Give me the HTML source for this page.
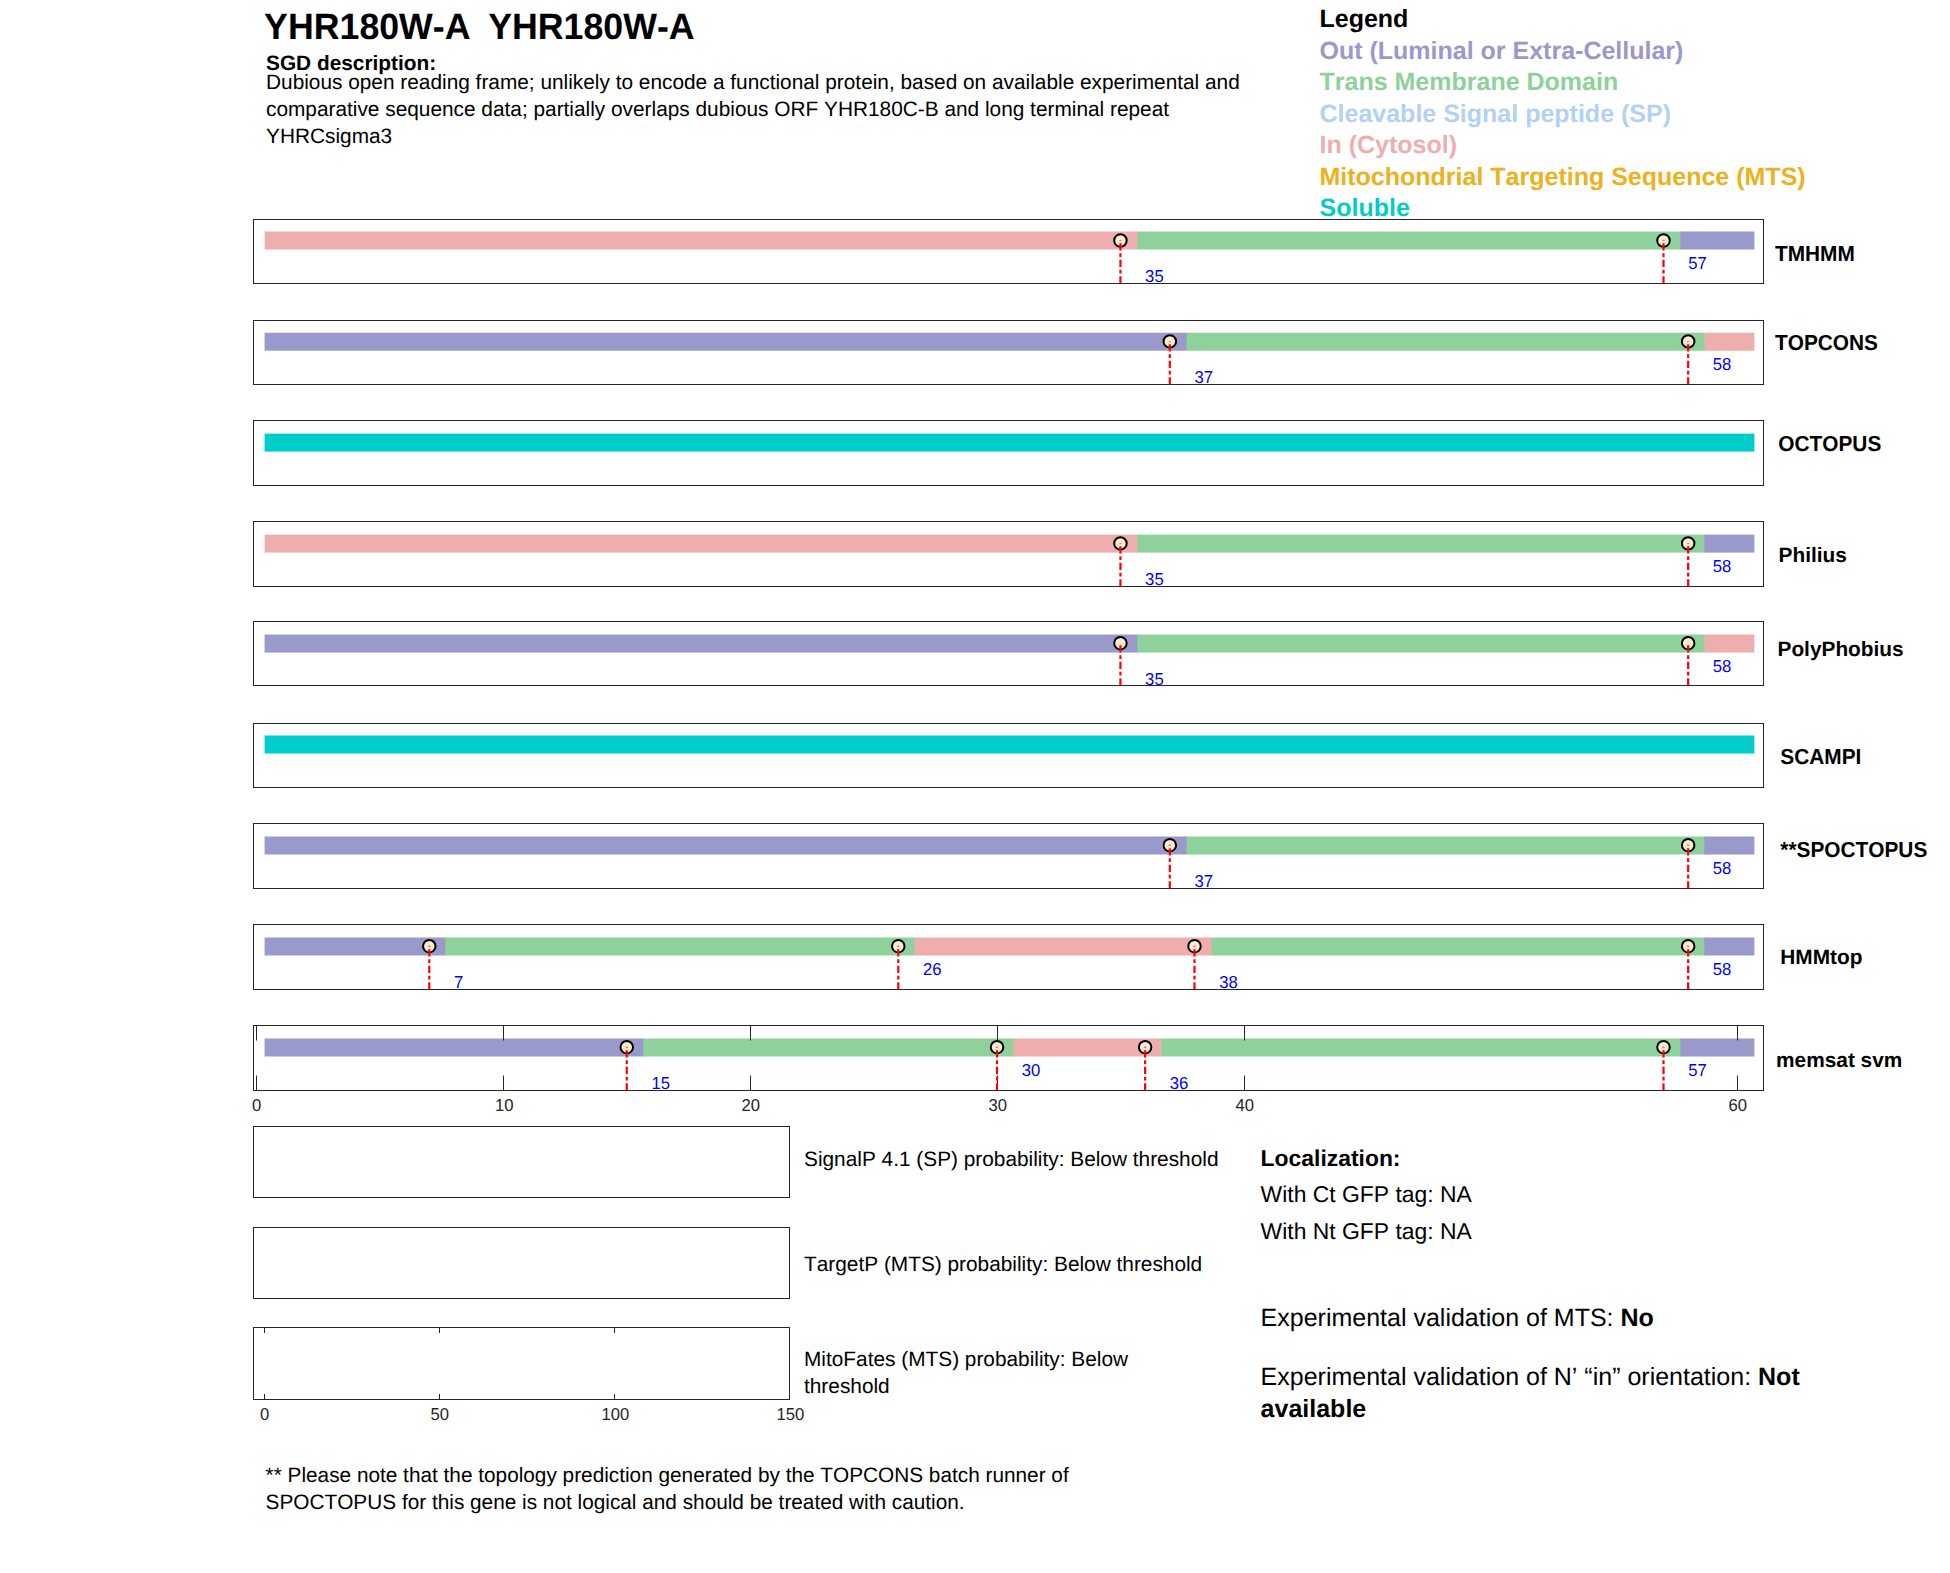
<!DOCTYPE html>
<html lang="en"><head><meta charset="utf-8"><title>YHR180W-A topology</title>
<style>
html,body{margin:0;padding:0;background:#fff;}
body{width:1950px;height:1573px;overflow:hidden;}
svg{display:block;}
text{font-family:"Liberation Sans",Arial,Helvetica,sans-serif;fill:#000;text-rendering:geometricPrecision;font-kerning:none;}
.b{font-weight:bold;}
.box{fill:none;stroke:#262626;stroke-width:1;}
.tick{stroke:#262626;stroke-width:1;}
.dash{stroke:#FF0000;stroke-width:2.2;stroke-dasharray:7.3 2.6 3.9 2.7;}
.mk{fill:#FCEBCF;stroke:#000;stroke-width:2;}
</style></head><body>
<svg width="1950" height="1573" viewBox="0 0 1950 1573">
<rect x="0" y="0" width="1950" height="1573" fill="#fff"/>
<text transform="translate(264.10 39.00) scale(1.0040 1.0270)" style="font-size:35.59px;font-weight:bold;">YHR180W-A</text>
<text transform="translate(488.20 39.00) scale(1.0040 1.0270)" style="font-size:35.59px;font-weight:bold;">YHR180W-A</text>
<text transform="translate(266.00 70.00) scale(1.0000 1.0000)" style="font-size:20.83px;font-weight:bold;">SGD description:</text>
<text transform="translate(266.00 89.00) scale(1.0000 1.0000)" style="font-size:20.83px;">Dubious open reading frame; unlikely to encode a functional protein, based on available experimental and</text>
<text transform="translate(266.00 116.00) scale(1.0000 1.0000)" style="font-size:20.83px;">comparative sequence data; partially overlaps dubious ORF YHR180C-B and long terminal repeat</text>
<text transform="translate(266.00 143.00) scale(1.0000 1.0000)" style="font-size:20.83px;">YHRCsigma3</text>
<text transform="translate(1319.50 27.00) scale(1.0000 1.0000)" style="font-size:25px;font-weight:bold;fill:#000;">Legend</text>
<text transform="translate(1319.50 59.00) scale(1.0000 1.0000)" style="font-size:25px;font-weight:bold;fill:#9999CC;">Out (Luminal or Extra-Cellular)</text>
<text transform="translate(1319.50 90.00) scale(1.0000 1.0000)" style="font-size:25px;font-weight:bold;fill:#8FD19A;">Trans Membrane Domain</text>
<text transform="translate(1319.50 122.00) scale(1.0000 1.0000)" style="font-size:25px;font-weight:bold;fill:#B3D1F2;">Cleavable Signal peptide (SP)</text>
<text transform="translate(1319.50 153.00) scale(1.0000 1.0000)" style="font-size:25px;font-weight:bold;fill:#EFAEAE;">In (Cytosol)</text>
<text transform="translate(1319.50 185.00) scale(1.0000 1.0000)" style="font-size:25px;font-weight:bold;fill:#EDB120;">Mitochondrial Targeting Sequence (MTS)</text>
<text transform="translate(1319.50 216.00) scale(1.0000 1.0000)" style="font-size:25px;font-weight:bold;fill:#00CCCC;">Soluble</text>
<rect x="253.5" y="219.5" width="1510.0" height="64.0" class="box"/>
<rect x="264.60" y="231.50" width="873.65" height="18" fill="#EFAEAE"/>
<rect x="1137.25" y="231.50" width="544.15" height="18" fill="#8FD19A"/>
<rect x="1680.40" y="231.50" width="74.00" height="18" fill="#9999CC"/>
<circle cx="1120.44" cy="240.5" r="6.25" class="mk"/>
<line x1="1120.44" y1="283.5" x2="1120.44" y2="240.1" class="dash"/>
<text transform="translate(1145.12 282.00) scale(1.0000 1.0400)" style="font-size:16.67px;fill:#0000FF;">35</text>
<circle cx="1663.49" cy="240.5" r="6.25" class="mk"/>
<line x1="1663.49" y1="283.5" x2="1663.49" y2="240.1" class="dash"/>
<text transform="translate(1688.17 269.00) scale(1.0000 1.0400)" style="font-size:16.67px;fill:#0000FF;">57</text>
<text transform="translate(1775.00 261.00) scale(1.0000 1.0400)" style="font-size:20.83px;font-weight:bold;">TMHMM</text>
<rect x="253.5" y="320.5" width="1510.0" height="64.0" class="box"/>
<rect x="264.60" y="332.70" width="922.85" height="18" fill="#9999CC"/>
<rect x="1186.45" y="332.70" width="518.90" height="18" fill="#8FD19A"/>
<rect x="1704.35" y="332.70" width="50.05" height="18" fill="#EFAEAE"/>
<circle cx="1169.81" cy="341.4" r="6.25" class="mk"/>
<line x1="1169.81" y1="384.5" x2="1169.81" y2="341.0" class="dash"/>
<text transform="translate(1194.49 383.00) scale(1.0000 1.0400)" style="font-size:16.67px;fill:#0000FF;">37</text>
<circle cx="1688.17" cy="341.4" r="6.25" class="mk"/>
<line x1="1688.17" y1="384.5" x2="1688.17" y2="341.0" class="dash"/>
<text transform="translate(1712.86 370.00) scale(1.0000 1.0400)" style="font-size:16.67px;fill:#0000FF;">58</text>
<text transform="translate(1775.00 350.00) scale(1.0000 1.0400)" style="font-size:20.83px;font-weight:bold;">TOPCONS</text>
<rect x="253.5" y="420.5" width="1510.0" height="65.0" class="box"/>
<rect x="264.60" y="433.60" width="1489.80" height="18" fill="#00CCCC"/>
<text transform="translate(1778.30 451.00) scale(1.0000 1.0400)" style="font-size:20.83px;font-weight:bold;">OCTOPUS</text>
<rect x="253.5" y="521.5" width="1510.0" height="65.0" class="box"/>
<rect x="264.60" y="534.60" width="873.65" height="18" fill="#EFAEAE"/>
<rect x="1137.25" y="534.60" width="568.10" height="18" fill="#8FD19A"/>
<rect x="1704.35" y="534.60" width="50.05" height="18" fill="#9999CC"/>
<circle cx="1120.44" cy="543.4" r="6.25" class="mk"/>
<line x1="1120.44" y1="586.5" x2="1120.44" y2="543.0" class="dash"/>
<text transform="translate(1145.12 585.00) scale(1.0000 1.0400)" style="font-size:16.67px;fill:#0000FF;">35</text>
<circle cx="1688.17" cy="543.4" r="6.25" class="mk"/>
<line x1="1688.17" y1="586.5" x2="1688.17" y2="543.0" class="dash"/>
<text transform="translate(1712.86 572.00) scale(1.0000 1.0400)" style="font-size:16.67px;fill:#0000FF;">58</text>
<text transform="translate(1778.60 562.00) scale(1.0000 1.0000)" style="font-size:20.83px;font-weight:bold;">Philius</text>
<rect x="253.5" y="621.5" width="1510.0" height="64.0" class="box"/>
<rect x="264.60" y="634.55" width="873.65" height="18" fill="#9999CC"/>
<rect x="1137.25" y="634.55" width="568.10" height="18" fill="#8FD19A"/>
<rect x="1704.35" y="634.55" width="50.05" height="18" fill="#EFAEAE"/>
<circle cx="1120.44" cy="643.2" r="6.25" class="mk"/>
<line x1="1120.44" y1="685.5" x2="1120.44" y2="642.8" class="dash"/>
<text transform="translate(1145.12 685.00) scale(1.0000 1.0400)" style="font-size:16.67px;fill:#0000FF;">35</text>
<circle cx="1688.17" cy="643.2" r="6.25" class="mk"/>
<line x1="1688.17" y1="685.5" x2="1688.17" y2="642.8" class="dash"/>
<text transform="translate(1712.86 672.00) scale(1.0000 1.0400)" style="font-size:16.67px;fill:#0000FF;">58</text>
<text transform="translate(1777.50 656.00) scale(1.0000 1.0000)" style="font-size:20.83px;font-weight:bold;">PolyPhobius</text>
<rect x="253.5" y="723.5" width="1510.0" height="64.0" class="box"/>
<rect x="264.60" y="735.50" width="1489.80" height="18" fill="#00CCCC"/>
<text transform="translate(1780.30 764.00) scale(1.0000 1.0400)" style="font-size:20.83px;font-weight:bold;">SCAMPI</text>
<rect x="253.5" y="823.5" width="1510.0" height="65.0" class="box"/>
<rect x="264.60" y="836.50" width="922.85" height="18" fill="#9999CC"/>
<rect x="1186.45" y="836.50" width="518.90" height="18" fill="#8FD19A"/>
<rect x="1704.35" y="836.50" width="50.05" height="18" fill="#9999CC"/>
<circle cx="1169.81" cy="845.2" r="6.25" class="mk"/>
<line x1="1169.81" y1="888.5" x2="1169.81" y2="844.8" class="dash"/>
<text transform="translate(1194.49 887.00) scale(1.0000 1.0400)" style="font-size:16.67px;fill:#0000FF;">37</text>
<circle cx="1688.17" cy="845.2" r="6.25" class="mk"/>
<line x1="1688.17" y1="888.5" x2="1688.17" y2="844.8" class="dash"/>
<text transform="translate(1712.86 874.00) scale(1.0000 1.0400)" style="font-size:16.67px;fill:#0000FF;">58</text>
<text transform="translate(1780.30 857.00) scale(1.0000 1.0400)" style="font-size:20.83px;font-weight:bold;">**SPOCTOPUS</text>
<rect x="253.5" y="924.5" width="1510.0" height="65.0" class="box"/>
<rect x="264.60" y="937.50" width="181.70" height="18" fill="#9999CC"/>
<rect x="445.30" y="937.50" width="470.00" height="18" fill="#8FD19A"/>
<rect x="914.30" y="937.50" width="298.10" height="18" fill="#EFAEAE"/>
<rect x="1211.40" y="937.50" width="493.95" height="18" fill="#8FD19A"/>
<rect x="1704.35" y="937.50" width="50.05" height="18" fill="#9999CC"/>
<circle cx="429.29" cy="946.2" r="6.25" class="mk"/>
<line x1="429.29" y1="989.5" x2="429.29" y2="945.8" class="dash"/>
<text transform="translate(453.97 988.00) scale(1.0000 1.0400)" style="font-size:16.67px;fill:#0000FF;">7</text>
<circle cx="898.28" cy="946.2" r="6.25" class="mk"/>
<line x1="898.28" y1="989.5" x2="898.28" y2="945.8" class="dash"/>
<text transform="translate(922.97 975.00) scale(1.0000 1.0400)" style="font-size:16.67px;fill:#0000FF;">26</text>
<circle cx="1194.49" cy="946.2" r="6.25" class="mk"/>
<line x1="1194.49" y1="989.5" x2="1194.49" y2="945.8" class="dash"/>
<text transform="translate(1219.18 988.00) scale(1.0000 1.0400)" style="font-size:16.67px;fill:#0000FF;">38</text>
<circle cx="1688.17" cy="946.2" r="6.25" class="mk"/>
<line x1="1688.17" y1="989.5" x2="1688.17" y2="945.8" class="dash"/>
<text transform="translate(1712.86 975.00) scale(1.0000 1.0400)" style="font-size:16.67px;fill:#0000FF;">58</text>
<text transform="translate(1780.30 964.00) scale(1.0000 1.0000)" style="font-size:20.83px;font-weight:bold;">HMMtop</text>
<rect x="253.5" y="1025.5" width="1510.0" height="65.0" class="box"/>
<rect x="264.60" y="1038.50" width="379.70" height="18" fill="#9999CC"/>
<rect x="643.30" y="1038.50" width="371.00" height="18" fill="#8FD19A"/>
<rect x="1013.30" y="1038.50" width="149.00" height="18" fill="#EFAEAE"/>
<rect x="1161.30" y="1038.50" width="520.10" height="18" fill="#8FD19A"/>
<rect x="1680.40" y="1038.50" width="74.00" height="18" fill="#9999CC"/>
<line x1="256.5" y1="1025.5" x2="256.5" y2="1040.5" class="tick"/>
<line x1="256.5" y1="1090.5" x2="256.5" y2="1075.5" class="tick"/>
<text transform="translate(256.70 1111.20) scale(1.0000 1.0400)" text-anchor="middle" style="font-size:16.67px;fill:#262626;">0</text>
<line x1="503.5" y1="1025.5" x2="503.5" y2="1040.5" class="tick"/>
<line x1="503.5" y1="1090.5" x2="503.5" y2="1075.5" class="tick"/>
<text transform="translate(504.30 1111.20) scale(1.0000 1.0400)" text-anchor="middle" style="font-size:16.67px;fill:#262626;">10</text>
<line x1="750.5" y1="1025.5" x2="750.5" y2="1040.5" class="tick"/>
<line x1="750.5" y1="1090.5" x2="750.5" y2="1075.5" class="tick"/>
<text transform="translate(750.70 1111.20) scale(1.0000 1.0400)" text-anchor="middle" style="font-size:16.67px;fill:#262626;">20</text>
<line x1="997.5" y1="1025.5" x2="997.5" y2="1040.5" class="tick"/>
<line x1="997.5" y1="1090.5" x2="997.5" y2="1075.5" class="tick"/>
<text transform="translate(997.70 1111.20) scale(1.0000 1.0400)" text-anchor="middle" style="font-size:16.67px;fill:#262626;">30</text>
<line x1="1244.5" y1="1025.5" x2="1244.5" y2="1040.5" class="tick"/>
<line x1="1244.5" y1="1090.5" x2="1244.5" y2="1075.5" class="tick"/>
<text transform="translate(1244.70 1111.20) scale(1.0000 1.0400)" text-anchor="middle" style="font-size:16.67px;fill:#262626;">40</text>
<line x1="1737.5" y1="1025.5" x2="1737.5" y2="1040.5" class="tick"/>
<line x1="1737.5" y1="1090.5" x2="1737.5" y2="1075.5" class="tick"/>
<text transform="translate(1737.70 1111.20) scale(1.0000 1.0400)" text-anchor="middle" style="font-size:16.67px;fill:#262626;">60</text>
<circle cx="626.76" cy="1047.2" r="6.25" class="mk"/>
<line x1="626.76" y1="1090.5" x2="626.76" y2="1046.8" class="dash"/>
<text transform="translate(651.44 1089.00) scale(1.0000 1.0400)" style="font-size:16.67px;fill:#0000FF;">15</text>
<circle cx="997.02" cy="1047.2" r="6.25" class="mk"/>
<line x1="997.02" y1="1090.5" x2="997.02" y2="1046.8" class="dash"/>
<text transform="translate(1021.70 1076.00) scale(1.0000 1.0400)" style="font-size:16.67px;fill:#0000FF;">30</text>
<circle cx="1145.12" cy="1047.2" r="6.25" class="mk"/>
<line x1="1145.12" y1="1090.5" x2="1145.12" y2="1046.8" class="dash"/>
<text transform="translate(1169.81 1089.00) scale(1.0000 1.0400)" style="font-size:16.67px;fill:#0000FF;">36</text>
<circle cx="1663.49" cy="1047.2" r="6.25" class="mk"/>
<line x1="1663.49" y1="1090.5" x2="1663.49" y2="1046.8" class="dash"/>
<text transform="translate(1688.17 1076.00) scale(1.0000 1.0400)" style="font-size:16.67px;fill:#0000FF;">57</text>
<text transform="translate(1776.10 1067.00) scale(1.0000 1.0000)" style="font-size:20.83px;font-weight:bold;">memsat svm</text>
<rect x="253.5" y="1126.5" width="536" height="71.0" class="box"/>
<rect x="253.5" y="1227.5" width="536" height="71.0" class="box"/>
<rect x="253.5" y="1327.5" width="536" height="72.0" class="box"/>
<line x1="264.5" y1="1327.5" x2="264.5" y2="1333.0" class="tick"/>
<line x1="264.5" y1="1399.5" x2="264.5" y2="1394.0" class="tick"/>
<text transform="translate(264.70 1420.20) scale(1.0000 1.0400)" text-anchor="middle" style="font-size:16.67px;fill:#262626;">0</text>
<line x1="439.5" y1="1327.5" x2="439.5" y2="1333.0" class="tick"/>
<line x1="439.5" y1="1399.5" x2="439.5" y2="1394.0" class="tick"/>
<text transform="translate(439.70 1420.20) scale(1.0000 1.0400)" text-anchor="middle" style="font-size:16.67px;fill:#262626;">50</text>
<line x1="614.5" y1="1327.5" x2="614.5" y2="1333.0" class="tick"/>
<line x1="614.5" y1="1399.5" x2="614.5" y2="1394.0" class="tick"/>
<text transform="translate(615.30 1420.20) scale(1.0000 1.0400)" text-anchor="middle" style="font-size:16.67px;fill:#262626;">100</text>
<line x1="789.5" y1="1327.5" x2="789.5" y2="1333.0" class="tick"/>
<line x1="789.5" y1="1399.5" x2="789.5" y2="1394.0" class="tick"/>
<text transform="translate(790.30 1420.20) scale(1.0000 1.0400)" text-anchor="middle" style="font-size:16.67px;fill:#262626;">150</text>
<text transform="translate(804.00 1166.00) scale(1.0000 1.0000)" style="font-size:20.83px;">SignalP 4.1 (SP) probability: Below threshold</text>
<text transform="translate(804.00 1271.00) scale(1.0000 1.0000)" style="font-size:20.83px;">TargetP (MTS) probability: Below threshold</text>
<text transform="translate(804.00 1366.00) scale(1.0000 1.0000)" style="font-size:20.83px;">MitoFates (MTS) probability: Below</text>
<text transform="translate(804.00 1393.00) scale(1.0000 1.0000)" style="font-size:20.83px;">threshold</text>
<text transform="translate(1260.60 1166.00) scale(1.0000 1.0000)" style="font-size:22.9px;font-weight:bold;">Localization:</text>
<text transform="translate(1260.60 1202.00) scale(1.0000 1.0000)" style="font-size:22.9px;">With Ct GFP tag: NA</text>
<text transform="translate(1260.60 1239.00) scale(1.0000 1.0000)" style="font-size:22.9px;">With Nt GFP tag: NA</text>
<text transform="translate(1260.60 1325.50) scale(1.0000 1.0000)" style="font-size:25px;">Experimental validation of MTS: <tspan class="b">No</tspan></text>
<text transform="translate(1260.60 1385.10) scale(1.0000 1.0000)" style="font-size:25px;">Experimental validation of N’ “in” orientation: <tspan class="b">Not</tspan></text>
<text transform="translate(1260.60 1417.30) scale(1.0000 1.0000)" style="font-size:25px;font-weight:bold;">available</text>
<text transform="translate(265.60 1481.80) scale(0.9980 1.0000)" style="font-size:20.83px;">** Please note that the topology prediction generated by the TOPCONS batch runner of</text>
<text transform="translate(265.60 1508.70) scale(0.9980 1.0000)" style="font-size:20.83px;">SPOCTOPUS for this gene is not logical and should be treated with caution.</text>
</svg></body></html>
